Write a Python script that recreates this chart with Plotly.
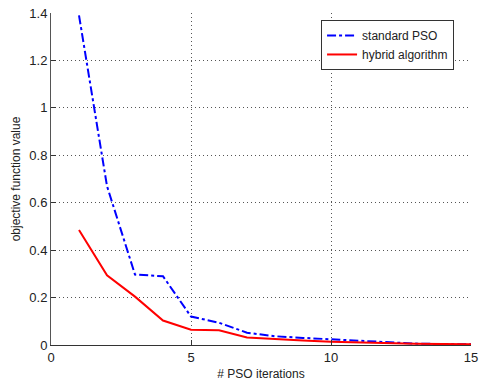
import plotly.graph_objects as go

iterations = list(range(1, 16))
standard_pso = [1.39, 0.67, 0.297, 0.29, 0.12, 0.094, 0.052, 0.037, 0.030, 0.024, 0.017, 0.010, 0.006, 0.004, 0.003]
hybrid_alg = [0.485, 0.294, 0.204, 0.103, 0.064, 0.062, 0.032, 0.024, 0.019, 0.014, 0.010, 0.007, 0.005, 0.004, 0.003]

x_ticks = [0, 5, 10, 15]
y_ticks = [0, 0.2, 0.4, 0.6, 0.8, 1.0, 1.2, 1.4]
y_tick_text = ["0", "0.2", "0.4", "0.6", "0.8", "1", "1.2", "1.4"]

fig = go.Figure()
fig.add_trace(go.Scatter(x=iterations, y=standard_pso, mode="lines", name="standard PSO",
                         line=dict(color="#0000ff", width=2, dash="dashdot")))
fig.add_trace(go.Scatter(x=iterations, y=hybrid_alg, mode="lines", name="hybrid algorithm",
                         line=dict(color="#ff0000", width=2)))

axis_font = dict(family="Liberation Sans, Arial, sans-serif", size=13, color="#222222")
fig.update_layout(
    width=484, height=384,
    margin=dict(l=51, r=13, t=13, b=39, autoexpand=False),
    paper_bgcolor="white", plot_bgcolor="white",
    font=dict(family="Liberation Sans, Arial, sans-serif", size=11, color="#222222"),
    showlegend=True,
    legend=dict(x=0.643, y=0.979, xanchor="left", yanchor="top",
                bgcolor="white", bordercolor="#333333", borderwidth=1,
                font=dict(size=12, color="#222222"), tracegroupgap=0),
    xaxis=dict(range=[0, 15], tickvals=x_ticks, ticks="inside", ticklen=5, tickcolor="#333333",
               showline=True, linecolor="#333333", linewidth=1, mirror=False,
               showgrid=True, gridcolor="#555555", griddash="1px,3px", gridwidth=1,
               zeroline=False, tickfont=axis_font, automargin=False,
               title=dict(text="# PSO iterations", font=dict(size=12, color="#222222"), standoff=6)),
    yaxis=dict(range=[0, 1.4], tickvals=y_ticks, ticktext=y_tick_text, ticks="inside", ticklen=5,
               tickcolor="#333333",
               showline=True, linecolor="#555555", linewidth=1, mirror=False,
               showgrid=True, gridcolor="#555555", griddash="1px,3px", gridwidth=1,
               zeroline=False, tickfont=axis_font, automargin=False,
               title=dict(text="objective function value", font=dict(size=12, color="#222222"), standoff=6)),
)
fig.write_html("out.html")
